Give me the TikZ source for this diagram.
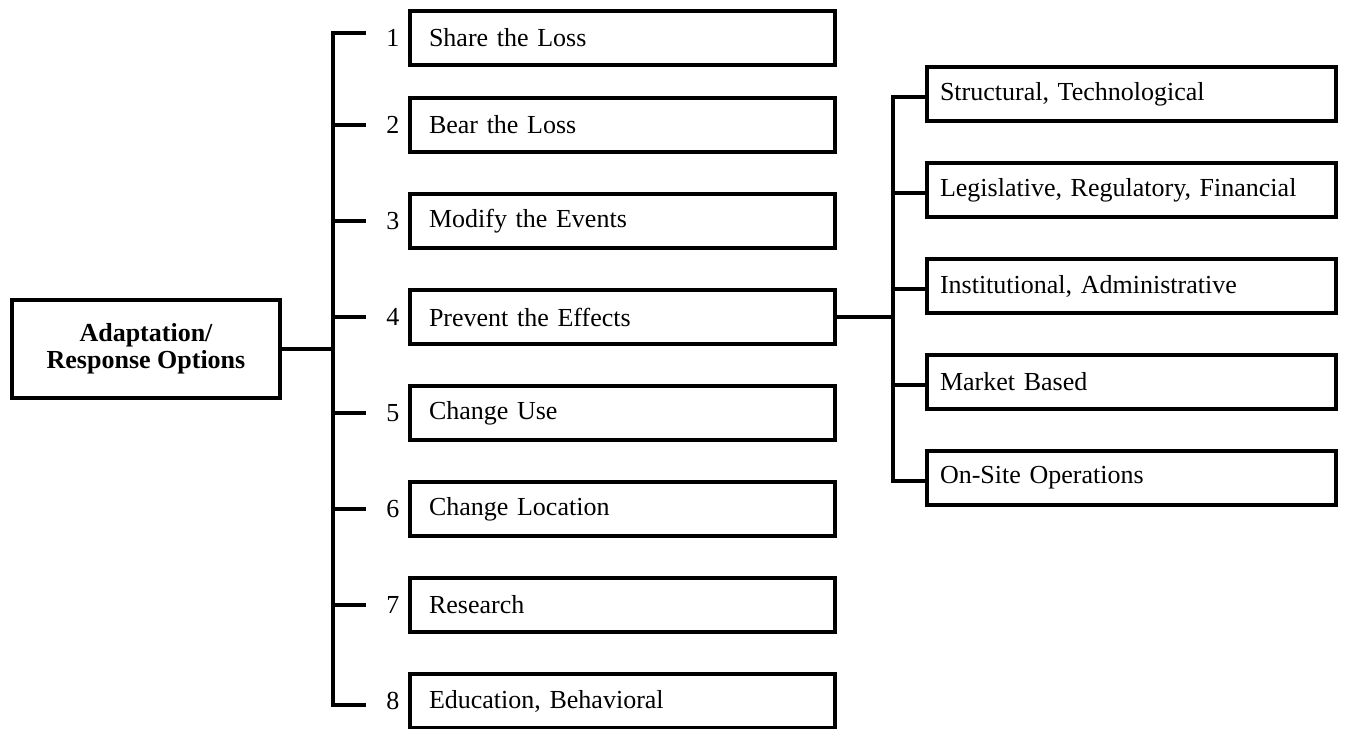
\documentclass[tikz,border=0pt]{standalone}
\usepackage{fontspec}
\setmainfont{Liberation Serif}
\usetikzlibrary{positioning}

\tikzset{
  option/.style={draw, line width=4.8pt, minimum width=425pt, minimum height=54pt,
    text width=387pt, inner xsep=19pt, align=left},
  measure/.style={draw, line width=4.8pt, minimum width=409pt, minimum height=54pt,
    text width=383pt, inner xsep=13pt, align=left},
  root/.style={draw, line width=4.8pt, minimum width=268pt, minimum height=98pt,
    align=center, font=\fontsize{26}{27}\selectfont\bfseries},
  number/.style={inner sep=0pt, anchor=east},
  link/.style={line width=4.8pt}
}

\begin{document}
\begin{tikzpicture}[x=1pt, y=-1pt, node distance=96pt, on grid,
    font=\fontsize{26}{27}\selectfont]
   \useasboundingbox (0,0) rectangle (1362,728);

   % 根节点
   \node[root] (root) at (146,349) {Adaptation/\\Response Options};

   % 八个选项
   \node[option] (b1) at (622.5,38) {Share the Loss};
   \node[option] (b2) at (622.5,125) {Bear the Loss};
   \node[option] (b3) [below=of b2] {Modify the Events};
   \node[option] (b4) [below=of b3] {Prevent the Effects};
   \node[option] (b5) [below=of b4] {Change Use};
   \node[option] (b6) [below=of b5] {Change Location};
   \node[option] (b7) [below=of b6] {Research};
   \node[option] (b8) [below=of b7] {Education, Behavioral};

   % 编号
   \node[number] (n1) at ([xshift=-8pt]b1.west) {1};
   \node[number] (n2) at ([xshift=-8pt]b2.west) {2};
   \node[number] (n3) at ([xshift=-8pt]b3.west) {3};
   \node[number] (n4) at ([xshift=-8pt]b4.west) {4};
   \node[number] (n5) at ([xshift=-8pt]b5.west) {5};
   \node[number] (n6) at ([xshift=-8pt]b6.west) {6};
   \node[number] (n7) at ([xshift=-8pt]b7.west) {7};
   \node[number] (n8) at ([xshift=-8pt]b8.west) {8};

   % 第四项的细分
   \node[measure] (s1) at (1131.5,94) {Structural, Technological};
   \node[measure] (s2) [below=of s1] {Legislative, Regulatory, Financial};
   \node[measure] (s3) [below=of s2] {Institutional, Administrative};
   \node[measure] (s4) [below=of s3] {Market Based};
   \node[measure] (s5) [below=of s4] {On-Site Operations};

   % 连接线的端点
   \coordinate (trunk) at (333,349);
   \coordinate (branch) at (893,316);
   \coordinate (t1) at ([xshift=-42pt,yshift=5pt]b1.west);
   \coordinate (t8) at ([xshift=-42pt,yshift=-4pt]b8.west);
   \coordinate (r1) at ([yshift=-3pt]s1.west);
   \coordinate (r2) at ([yshift=-3pt]s2.west);
   \coordinate (r3) at ([yshift=-3pt]s3.west);
   \coordinate (r4) at ([yshift=-3pt]s4.west);
   \coordinate (r5) at ([yshift=-3pt]s5.west);

   % 连接线
   \draw[link] (root.east) -- (trunk |- root.east);
   \draw[link] (t1) -| (trunk |- t8) -- (t8);
   \draw[link] (trunk |- b2.west) -- ([xshift=-42pt]b2.west);
   \draw[link] (trunk |- b3.west) -- ([xshift=-42pt]b3.west);
   \draw[link] (trunk |- b4.west) -- ([xshift=-42pt]b4.west);
   \draw[link] (trunk |- b5.west) -- ([xshift=-42pt]b5.west);
   \draw[link] (trunk |- b6.west) -- ([xshift=-42pt]b6.west);
   \draw[link] (trunk |- b7.west) -- ([xshift=-42pt]b7.west);

   \draw[link] (b4.east) -- (branch |- b4.east);
   \draw[link] (r1) -| (branch |- r5) -- (r5);
   \draw[link] (branch |- r2) -- (r2);
   \draw[link] (branch |- r3) -- (r3);
   \draw[link] (branch |- r4) -- (r4);
\end{tikzpicture}
\end{document}
